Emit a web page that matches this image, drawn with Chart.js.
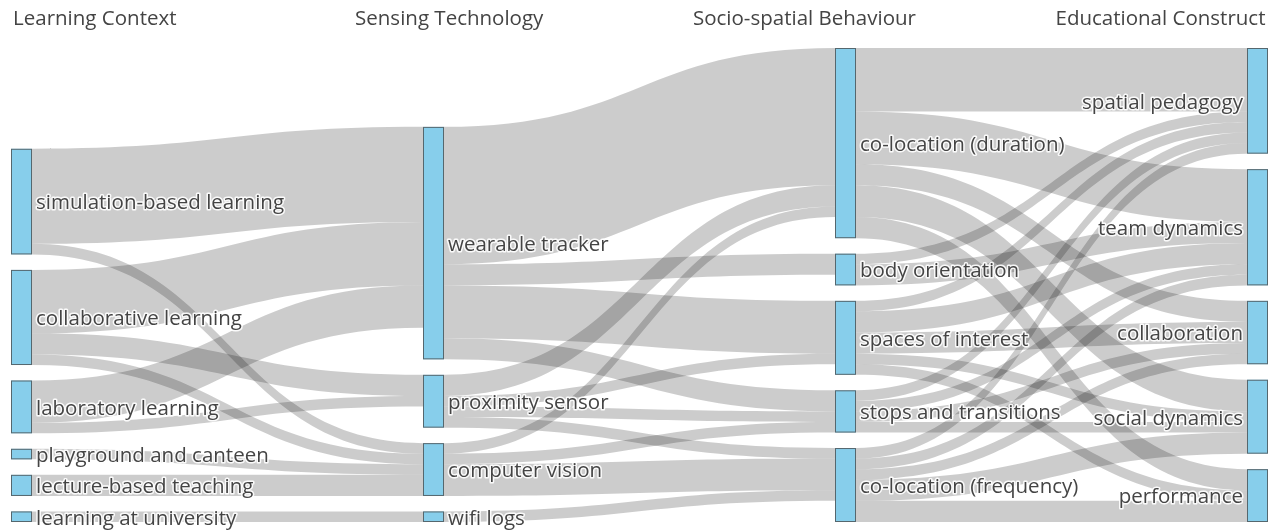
<!DOCTYPE html>
<html>
<head>
<meta charset="utf-8">
<script src="https://cdn.jsdelivr.net/npm/chart.js@4.4.1/dist/chart.umd.min.js"></script>
<style>
  html, body { margin: 0; padding: 0; background: #fff; }
  #wrap { position: relative; width: 1268px; height: 531px; }
</style>
</head>
<body>
<div id="wrap"><canvas id="sankey"></canvas></div>
<script>
const stageTitles = ['Learning Context', 'Sensing Technology', 'Socio-spatial Behaviour', 'Educational Construct'];

const contexts = ['simulation-based learning', 'collaborative learning', 'laboratory learning',
  'playground and canteen', 'lecture-based teaching', 'learning at university'];
const sensors = ['wearable tracker', 'proximity sensor', 'computer vision', 'wifi logs'];
const behaviours = ['co-location (duration)', 'body orientation', 'spaces of interest',
  'stops and transitions', 'co-location (frequency)'];
const constructs = ['spatial pedagogy', 'team dynamics', 'collaboration', 'social dynamics', 'performance'];

// [from, to, number of studies]
const contextToSensor = [
  ['simulation-based learning', 'wearable tracker', 9],
  ['simulation-based learning', 'computer vision', 1],
  ['collaborative learning', 'wearable tracker', 6],
  ['collaborative learning', 'proximity sensor', 2],
  ['collaborative learning', 'computer vision', 1],
  ['laboratory learning', 'wearable tracker', 4],
  ['laboratory learning', 'proximity sensor', 1],
  ['playground and canteen', 'computer vision', 1],
  ['lecture-based teaching', 'computer vision', 2],
  ['learning at university', 'wifi logs', 1]
];

const sensorToBehaviour = [
  ['wearable tracker', 'co-location (duration)', 13],
  ['wearable tracker', 'body orientation', 2],
  ['wearable tracker', 'spaces of interest', 5],
  ['wearable tracker', 'stops and transitions', 2],
  ['proximity sensor', 'co-location (duration)', 2],
  ['proximity sensor', 'spaces of interest', 1],
  ['proximity sensor', 'stops and transitions', 1],
  ['proximity sensor', 'co-location (frequency)', 1],
  ['computer vision', 'co-location (duration)', 1],
  ['computer vision', 'stops and transitions', 1],
  ['computer vision', 'co-location (frequency)', 3],
  ['wifi logs', 'co-location (frequency)', 1]
];

const behaviourToConstruct = [
  ['co-location (duration)', 'spatial pedagogy', 6],
  ['co-location (duration)', 'team dynamics', 5],
  ['co-location (duration)', 'collaboration', 2],
  ['co-location (duration)', 'social dynamics', 3],
  ['co-location (duration)', 'performance', 2],
  ['body orientation', 'spatial pedagogy', 1],
  ['body orientation', 'team dynamics', 2],
  ['spaces of interest', 'spatial pedagogy', 1],
  ['spaces of interest', 'team dynamics', 2],
  ['spaces of interest', 'collaboration', 2],
  ['spaces of interest', 'social dynamics', 1],
  ['spaces of interest', 'performance', 1],
  ['stops and transitions', 'spatial pedagogy', 1],
  ['stops and transitions', 'team dynamics', 1],
  ['stops and transitions', 'collaboration', 1],
  ['stops and transitions', 'social dynamics', 1],
  ['co-location (frequency)', 'spatial pedagogy', 1],
  ['co-location (frequency)', 'team dynamics', 1],
  ['co-location (frequency)', 'collaboration', 1],
  ['co-location (frequency)', 'social dynamics', 2],
  ['co-location (frequency)', 'performance', 2]
];

// --- layout in value units (y grows downward, columns stacked from the bottom) ---
const stages = [contexts, sensors, behaviours, constructs];
const nodeGap = 1.464;
const nodes = {};
stages.forEach((names, col) => names.forEach(name => {
  nodes[name] = { name, col, inLinks: [], outLinks: [] };
}));
const links = [...contextToSensor, ...sensorToBehaviour, ...behaviourToConstruct]
  .map(([s, t, v]) => ({ s, t, v }));
links.forEach(l => { nodes[l.s].outLinks.push(l); nodes[l.t].inLinks.push(l); });

const total = arr => arr.reduce((a, l) => a + l.v, 0);
Object.values(nodes).forEach(n => { n.value = Math.max(total(n.inLinks), total(n.outLinks)); });

const yMax = Math.max(...stages.map(names =>
  names.reduce((a, nm) => a + nodes[nm].value, 0) + (names.length - 1) * nodeGap));

stages.forEach(names => {
  let bottom = yMax;
  [...names].reverse().forEach(nm => {
    const n = nodes[nm];
    n.y1 = bottom;
    n.y0 = bottom - n.value;
    bottom = n.y0 - nodeGap;
  });
});

Object.values(nodes).forEach(n => {
  let o = n.y0;
  n.outLinks.sort((a, b) => nodes[a.t].y0 - nodes[b.t].y0).forEach(l => { l.sy = o; o += l.v; });
  let i = n.y0;
  n.inLinks.sort((a, b) => nodes[a.s].y0 - nodes[b.s].y0).forEach(l => { l.ty = i; i += l.v; });
});

const NODE_W = 21;

function haloText(ctx, text, x, y) {
  ctx.save();
  ctx.strokeStyle = 'rgba(255,255,255,0.9)';
  ctx.lineWidth = 3;
  ctx.lineJoin = 'round';
  ctx.strokeText(text, x, y);
  ctx.restore();
  ctx.fillText(text, x, y);
}

const sankeyPlugin = {
  id: 'sankey',
  afterDatasetsDraw(chart) {
    const { ctx, scales: { x, y } } = chart;
    ctx.save();

    // links
    ctx.fillStyle = 'rgba(0,0,0,0.2)';
    links.forEach(l => {
      const src = nodes[l.s], tgt = nodes[l.t];
      const xs = x.getPixelForValue(src.col) + NODE_W;
      const xt = x.getPixelForValue(tgt.col);
      const xm = (xs + xt) / 2;
      const s0 = y.getPixelForValue(l.sy), s1 = y.getPixelForValue(l.sy + l.v);
      const t0 = y.getPixelForValue(l.ty), t1 = y.getPixelForValue(l.ty + l.v);
      ctx.beginPath();
      ctx.moveTo(xs, s0);
      ctx.bezierCurveTo(xm, s0, xm, t0, xt, t0);
      ctx.lineTo(xt, t1);
      ctx.bezierCurveTo(xm, t1, xm, s1, xs, s1);
      ctx.closePath();
      ctx.fill();
    });

    // nodes
    Object.values(nodes).forEach(n => {
      const px = x.getPixelForValue(n.col);
      const top = y.getPixelForValue(n.y0), bot = y.getPixelForValue(n.y1);
      ctx.fillStyle = '#87ceeb';
      ctx.fillRect(px, top, NODE_W, bot - top);
      ctx.strokeStyle = 'rgba(68,68,68,0.75)';
      ctx.lineWidth = 1;
      ctx.strokeRect(px + 0.5, top + 0.5, NODE_W - 1, bot - top - 1);
    });

    // node labels
    ctx.font = '20.5px "Open Sans"';
    ctx.fillStyle = '#444';
    ctx.textBaseline = 'middle';
    Object.values(nodes).forEach(n => {
      const px = x.getPixelForValue(n.col);
      const mid = (y.getPixelForValue(n.y0) + y.getPixelForValue(n.y1)) / 2 + 2;
      if (n.col === stages.length - 1) {
        ctx.textAlign = 'right';
        haloText(ctx, n.name, px - 4, mid);
      } else {
        ctx.textAlign = 'left';
        haloText(ctx, n.name, px + NODE_W + 4, mid);
      }
    });

    // stage headings
    ctx.font = '20.5px "Open Sans"';
    ctx.fillStyle = '#444';
    const W = chart.width;
    const heads = [[0.0103, 'left'], [0.28, 'left'], [0.5465, 'left'], [0.998, 'right']];
    stageTitles.forEach((t, i) => {
      ctx.textAlign = heads[i][1];
      ctx.fillText(t, W * heads[i][0], 19);
    });

    ctx.restore();
  }
};

new Chart(document.getElementById('sankey'), {
  type: 'scatter',
  data: { datasets: [{ data: [], pointRadius: 0 }] },
  options: {
    responsive: true,
    maintainAspectRatio: false,
    animation: false,
    events: [],
    layout: { padding: { left: 11, right: 21, top: 48, bottom: 9 } },
    plugins: { legend: { display: false }, tooltip: { enabled: false } },
    scales: {
      x: { type: 'linear', min: 0, max: stages.length - 1, display: false },
      y: { type: 'linear', min: 0, max: yMax, reverse: true, display: false }
    }
  },
  plugins: [sankeyPlugin]
});
</script>
</body>
</html>
